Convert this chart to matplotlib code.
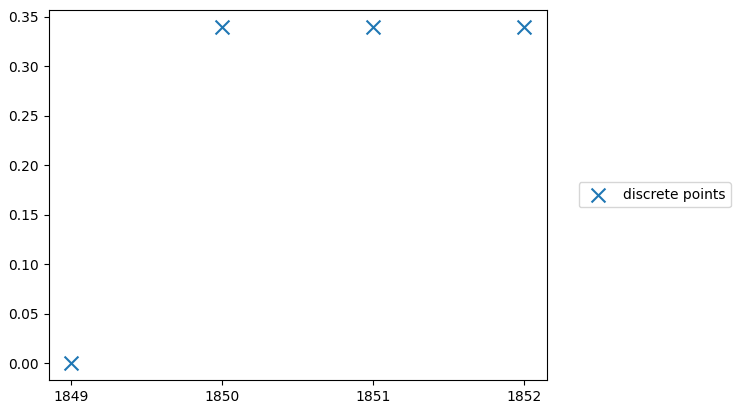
import matplotlib
matplotlib.use("Agg")
import matplotlib.pyplot as plt

# data
years = [1849, 1850, 1851, 1852]
values = [0.0, 0.34, 0.34, 0.34]

fig = plt.figure(figsize=(7.4, 4.13), dpi=100)
ax = fig.add_axes([0.066, 0.08, 0.673, 0.896])

ax.scatter(years, values, marker='x', s=100, color='#1f77b4', label='discrete points')
ax.set_xticks(years)
ax.set_xticklabels([str(y) for y in years])

ax.legend(loc='center left', bbox_to_anchor=(1.05, 0.5))

fig.savefig('out.png', dpi=100)
